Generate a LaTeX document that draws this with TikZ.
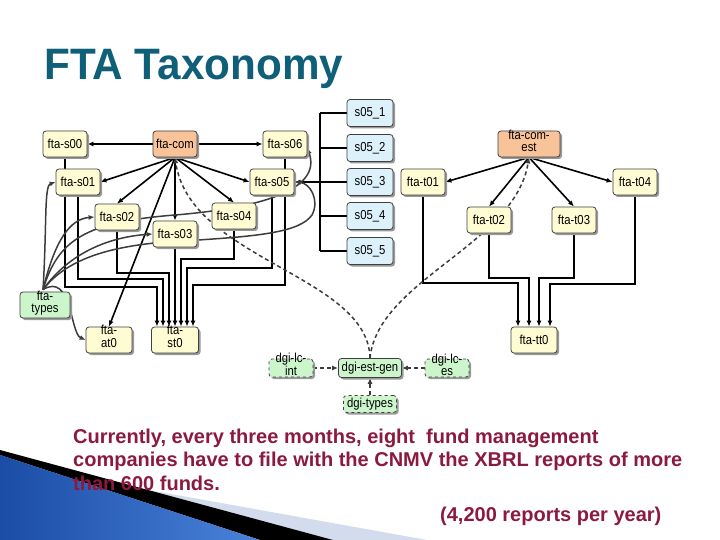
\documentclass[tikz,border=0pt]{standalone}
\usepackage{fontspec}
\setmainfont{Liberation Sans}
\newfontfamily\titlefont{Liberation Sans}[FakeStretch=0.96]
\newfontfamily\nodefont{Liberation Sans}[FakeStretch=0.87]
\newfontfamily\notefont{Liberation Sans}
\usepackage{xcolor}
\usepackage{tikz}
\usetikzlibrary{positioning, backgrounds, arrows.meta, shadows}
\definecolor{ftayel}  {HTML}{FFFBD2}
\definecolor{ftaorg}  {HTML}{F9C39A}
\definecolor{ftablu}  {HTML}{DDF1FB}
\definecolor{ftagrn}  {HTML}{CCF5CC}
\definecolor{ftatitle}{HTML}{0F5F78}
\definecolor{ftanote} {HTML}{8C1A3E}
\definecolor{wavedark}{HTML}{1B4DA6}
\definecolor{wavelite}{HTML}{4A82DA}
\definecolor{wavepale}{HTML}{D3DCEC}
\definecolor{linkgray}{HTML}{3C3C3C}

\newcommand\twoline[2]{\raisebox{-3pt}{\smash{\begin{tabular}{@{}c@{}}#1\\#2\end{tabular}}}}

\tikzset{
  box/.style={draw=black!75, line width=0.8pt, rounded corners=3pt,
              minimum width=44pt, minimum height=26pt, inner sep=1pt,
              font=\nodefont\fontsize{13}{12.5}\selectfont,
              drop shadow={shadow xshift=2pt, shadow yshift=-2pt,
                           fill=black!40, opacity=1}},
  ftabox/.style={box, fill=ftayel},
  combox/.style={box, fill=ftaorg},
  subbox/.style={box, fill=ftablu, minimum width=46pt, minimum height=27pt},
  typbox/.style={box, fill=ftagrn},
  dgibox/.style={box, fill=ftagrn, minimum height=18pt},
  link/.style={line width=1.6pt, -{Latex[length=6pt, width=5pt]}},
  bus/.style={line width=1.6pt},
  curve/.style={draw=linkgray, line width=1.5pt, -{Latex[length=6pt, width=5pt]}},
  dep/.style={draw=linkgray, line width=1.5pt, dash pattern=on 4pt off 3pt,
              -{Latex[length=6pt, width=5pt]}}
}

\begin{document}
\begin{tikzpicture}[x=1pt, y=-1pt]
  \useasboundingbox (0,0) rectangle (720,540);

  \node[anchor=base west, inner sep=0, text=ftatitle,
        font=\titlefont\bfseries\fontsize{44}{48}\selectfont] (title) at (44,80) {FTA Taxonomy};

  % fta-com group
  \node[ftabox] (fta-s00) at (65,144) {fta-s00};
  \node[combox] (fta-com) at (175,144) {fta-com};
  \node[ftabox] (fta-s06) at (285,144) {fta-s06};
  \node[ftabox] (fta-s01) at (78,182) {fta-s01};
  \node[ftabox] (fta-s05) at (272,182) {fta-s05};
  \node[ftabox] (fta-s02) at (117,217) {fta-s02};
  \node[ftabox] (fta-s04) at (234,216) {fta-s04};
  \node[ftabox] (fta-s03) at (175,234) {fta-s03};
  \node[typbox, minimum width=50pt] (fta-types) at (45,305) {\twoline{fta-}{types}};
  \node[ftabox, minimum width=46pt] (fta-at0) at (109,340) {\twoline{fta-}{at0}};
  \node[ftabox, minimum width=47pt] (fta-st0) at (175,340) {\twoline{fta-}{st0}};

  \foreach \i/\y in {1/113, 2/148, 3/182, 4/216, 5/251}
    \node[subbox] (s05-\i) at (370,\y) {s05\_\i};

  % fta-com-est group
  \node[combox, minimum width=62pt] (fta-com-est) at (529,144) {\twoline{fta-com-}{est}};
  \node[ftabox] (fta-t01) at (423,182) {fta-t01};
  \node[ftabox] (fta-t02) at (489,220) {fta-t02};
  \node[ftabox] (fta-t03) at (574,220) {fta-t03};
  \node[ftabox] (fta-t04) at (635,182) {fta-t04};
  \node[ftabox, minimum width=46pt] (fta-tt0) at (534,340) {fta-tt0};

  % dgi group
  \node[dgibox, minimum width=63pt, minimum height=19pt] (dgi-est-gen) at (370,368) {dgi-est-gen};
  \node[dgibox, dashed] (dgi-lc-int) at (291,368) {\twoline{dgi-lc-}{int}};
  \node[dgibox, dashed] (dgi-lc-es) at (447,368) {\twoline{dgi-lc-}{es}};
  \node[dgibox, dashed, minimum width=53pt, minimum height=17pt] (dgi-types) at (370,404) {dgi-types};

  \node[anchor=north west, align=left, inner sep=0, text=ftanote,
        font=\notefont\bfseries\fontsize{20}{23.5}\selectfont] (note) at (73,428.5)
    {Currently, every three months, eight\ \ fund management\\
     companies have to file with the CNMV the XBRL reports of more\\
     than 600 funds.};
  \node[anchor=base west, inner sep=0, text=ftanote,
        font=\notefont\bfseries\fontsize{20}{24}\selectfont] (total) at (440,521)
    {(4,200 reports per year)};

  \begin{scope}[on background layer]
    \fill[white] (0,0) rectangle (720,540);
    \fill[wavepale] (132,487) -- (427,540) -- (333,540) -- cycle;
    \fill[black] (0,450) -- (333,540) -- (260,540) -- (0,455) -- cycle;
    \shade[left color=wavedark, right color=wavelite] (0,455) -- (260,540) -- (0,540) -- cycle;

    \draw[link] (fta-com.west) -- (fta-s00.east);
    \draw[link] (fta-com.east) -- (fta-s06.west);
    \foreach \dst/\anc in {fta-s01/east, fta-s02/north, fta-s03/north,
                           fta-s04/north, fta-s05/west, fta-at0/north}
      \draw[link] (fta-com.south) -- (\dst.\anc);
    \foreach \dst/\anc in {fta-t01/east, fta-t02/north, fta-t03/north, fta-t04/west}
      \draw[link] (fta-com-est.south) -- (\dst.\anc);

    \foreach \src/\dx/\lvl in {fta-s00/-18/287, fta-s01/-12/279, fta-s02/-6/273,
                               fta-s04/6/259, fta-s05/12/268, fta-s06/18/285}
      \draw[link] (\src.south) |- (175+\dx,\lvl) -- ([xshift=\dx pt]fta-st0.north);
    \draw[link] (fta-s03.south) -- (fta-st0.north);
    \foreach \src/\dx/\lvl in {fta-t01/-16/283, fta-t02/-5/278, fta-t03/5/278, fta-t04/16/284}
      \draw[link] (\src.south) |- (534+\dx,\lvl) -- ([xshift=\dx pt]fta-tt0.north);

    \coordinate (s05-bus) at (320,182);
    \foreach \i in {1,...,5}
      \draw[bus] (s05-\i.west) -- (s05-\i.west -| s05-bus);
    \draw[bus] (s05-1.west -| s05-bus) -- (s05-5.west -| s05-bus);
    \draw[link] (s05-bus) -- (fta-s05.east);

    \coordinate (fan) at ([xshift=-2pt, yshift=2pt]fta-types.north);
    \draw[curve] (fan) .. controls (47,225) and (44,186) .. (fta-s01.west);
    \draw[curve] (fan) .. controls (55,240) and (70,219) .. (fta-s02.west);
    \draw[curve] (fan) .. controls (70,252) and (110,237) .. (fta-s03.west);
    \draw[curve] (fan) .. controls (58,240) and (85,222) .. (175,215)
                       .. controls (260,208) and (322,190) .. ([yshift=-4pt]fta-s06.east);
    \draw[curve] (fan) .. controls (70,255) and (120,243) .. (198,240)
                       .. controls (260,236) and (300,232) .. (312,215)
                       .. controls (320,200) and (310,183) .. (fta-s05.east);
    \draw[curve] (fan) .. controls (72,272) and (70,333) .. (fta-at0.west);

    \draw[dep] (dgi-est-gen.north) .. controls (368,275) and (190,260) .. (fta-com.south);
    \draw[dep] (dgi-est-gen.north) .. controls (378,280) and (515,245) .. (fta-com-est.south);
    \draw[dep] (dgi-lc-int) -- (dgi-est-gen);
    \draw[dep] (dgi-lc-es) -- (dgi-est-gen);
    \draw[dep] (dgi-types) -- (dgi-est-gen);
  \end{scope}
\end{tikzpicture}
\end{document}
